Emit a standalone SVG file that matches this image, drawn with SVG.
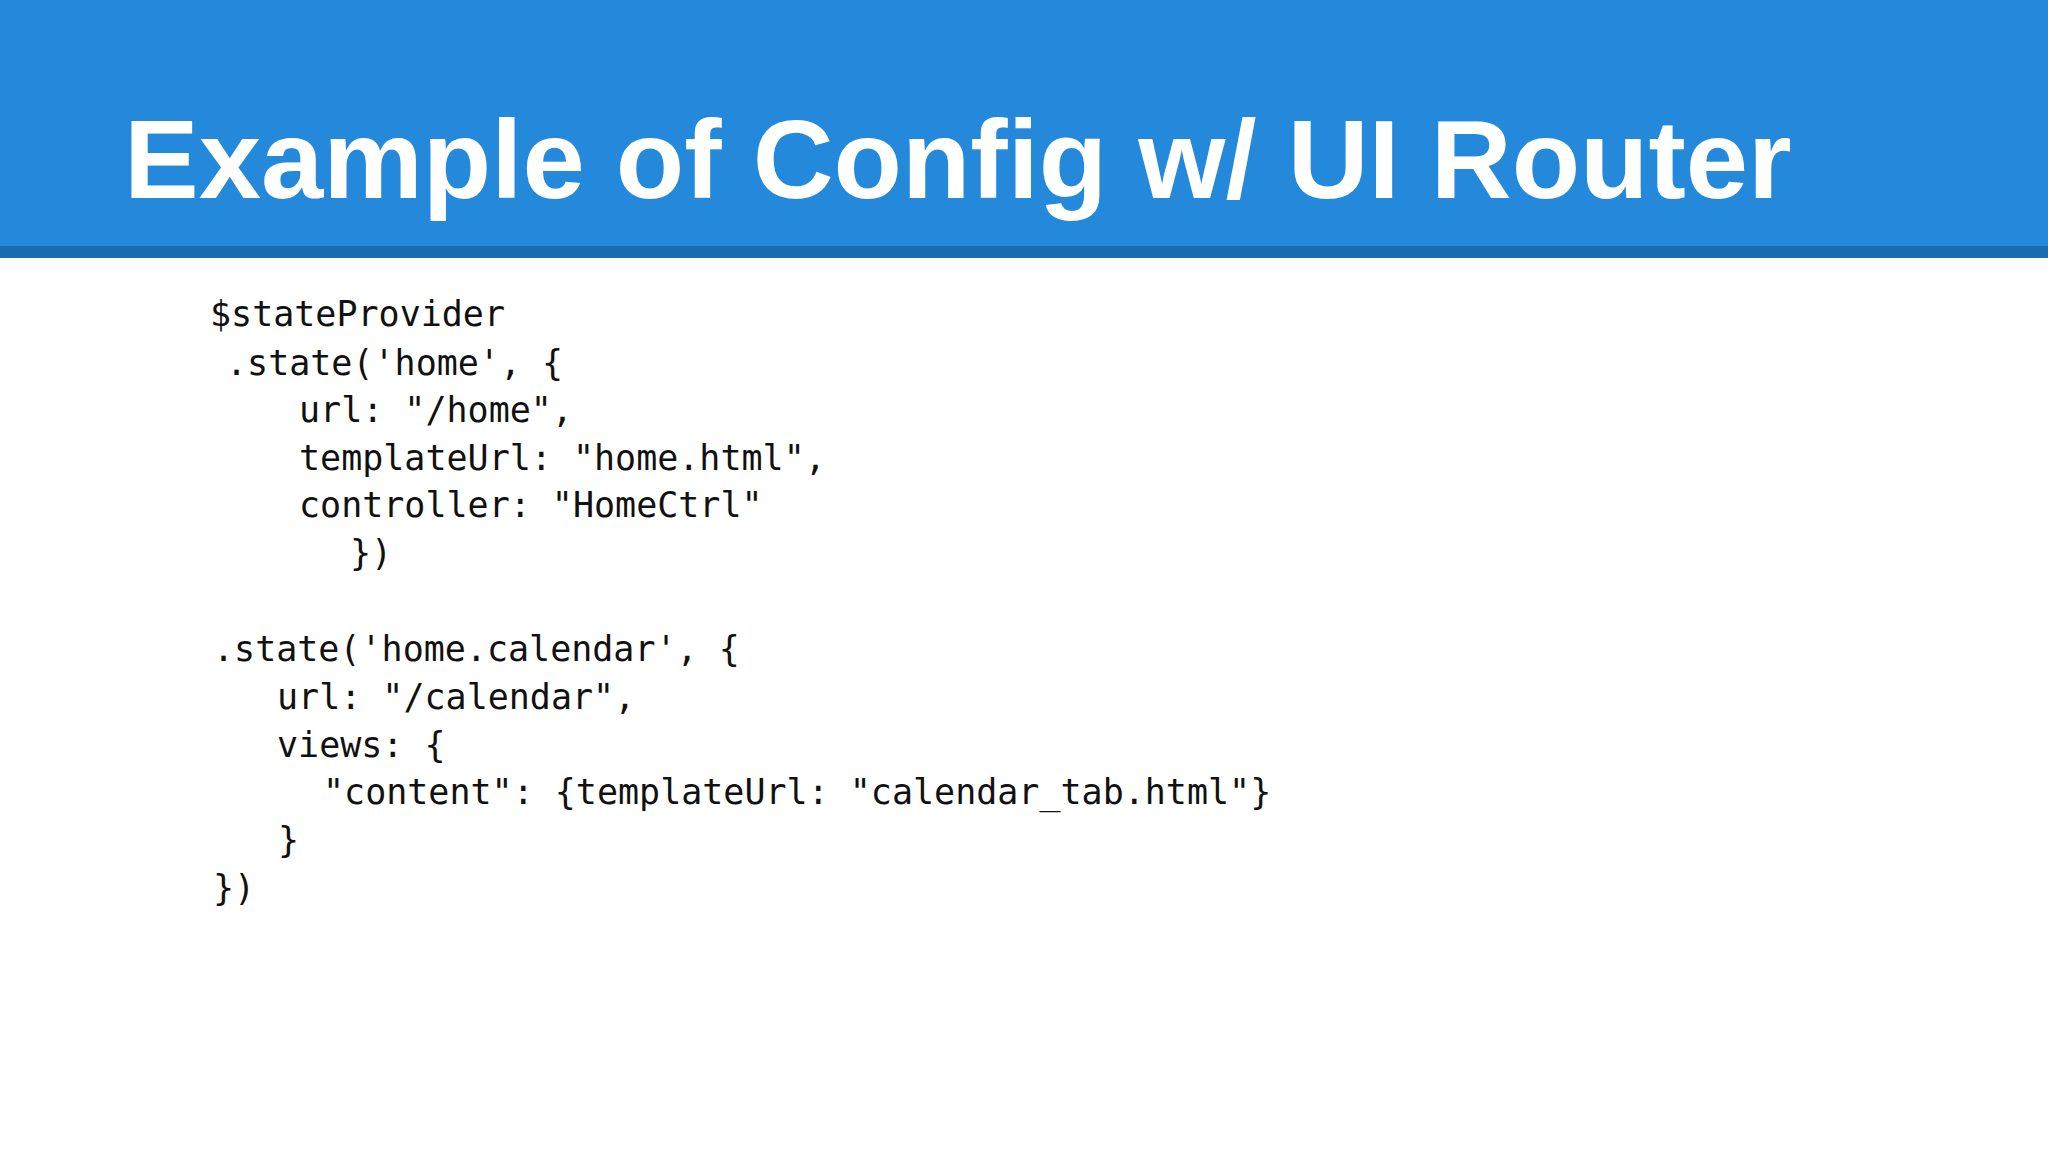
<svg xmlns="http://www.w3.org/2000/svg" width="2048" height="1152" viewBox="0 0 2048 1152">
<style>
.c{font-family:"DejaVu Sans Mono","Liberation Mono",monospace;font-size:35px;fill:#111}
.t{font-family:"Liberation Sans",Arial,sans-serif;font-weight:bold;font-size:112px;fill:#fff}
</style>
<rect width="2048" height="1152" fill="#fff"/>
<g id="header">
<rect x="0" y="0" width="2048" height="246" fill="#2489db"/>
<rect x="0" y="246" width="2048" height="12" fill="#1b6bb0"/>
<text class="t" x="124" y="198">Example of Config w/ UI Router</text>
</g>
<g id="code">
<text class="c" x="210" y="326">$stateProvider</text>
<text class="c" x="226" y="375">.state('home', {</text>
<text class="c" x="299" y="422">url: "/home",</text>
<text class="c" x="299" y="470">templateUrl: "home.html",</text>
<text class="c" x="299" y="517">controller: "HomeCtrl"</text>
<text class="c" x="350" y="565">})</text>
<text class="c" x="213" y="661">.state('home.calendar', {</text>
<text class="c" x="277" y="709">url: "/calendar",</text>
<text class="c" x="277" y="757">views: {</text>
<text class="c" x="323" y="804">"content": {templateUrl: "calendar_tab.html"}</text>
<text class="c" x="278" y="852">}</text>
<text class="c" x="213" y="900">})</text>
</g>
</svg>
